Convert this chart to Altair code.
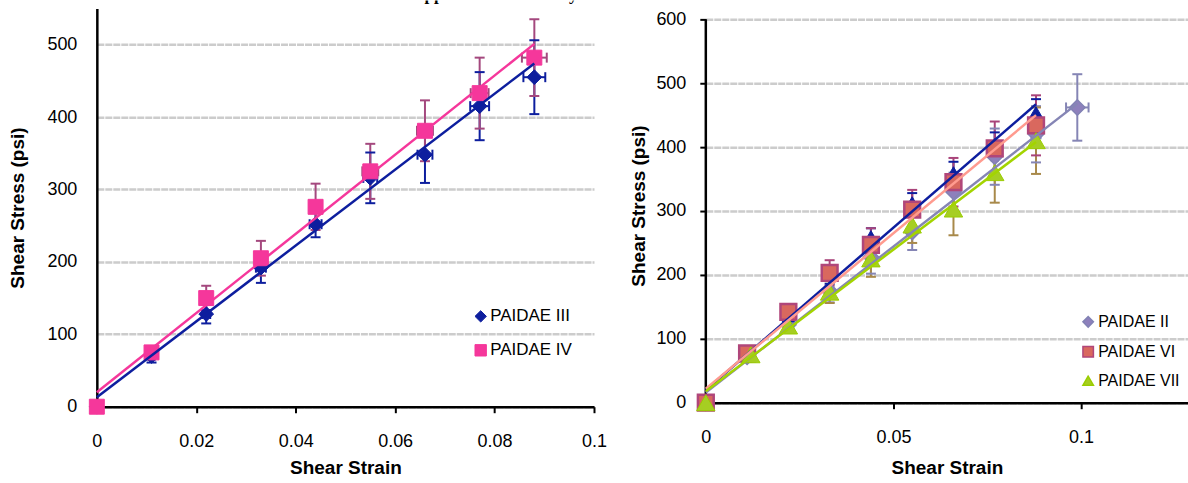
import altair as alt
import pandas as pd

FONT = "Liberation Sans"
BLACK = "black"

# ---------------- page heading (cut off at the top of the picture) ----------------
page_title = "Appendix H: Shear Cyclic Test Results"

# ---------------- left panel data ----------------
left_series = ["PAIDAE III", "PAIDAE IV"]
left_strain = [0, 0.011, 0.022, 0.033, 0.044, 0.055, 0.066, 0.077, 0.088]
iii_stress = [0, 70, 128, 192, 252, 316, 348, 415, 455]
iii_err = [0, 9, 13, 21, 18, 35, 39, 47, 51]
iii_xerr = [0, 0.0006, 0.0008, 0.001, 0.0012, 0.0014, 0.0015, 0.0019, 0.0022]
iv_stress = [0, 75, 150, 205, 276, 325, 381, 433, 482]
iv_err = [0, 7, 17, 24, 32, 38, 42, 49, 53]
iv_xerr = [0, 0.0006, 0.0008, 0.001, 0.0012, 0.0016, 0.0016, 0.0018, 0.0025]
left_fit_strain = [0, 0.088]
iii_fit = [13, 474]
iv_fit = [20, 501]

# ---------------- right panel data ----------------
right_series = ["PAIDAE II", "PAIDAE V", "PAIDAE VI", "PAIDAE VII"]
right_legend = ["PAIDAE II", "PAIDAE VI", "PAIDAE VII"]
ii_strain = [0, 0.011, 0.022, 0.033, 0.044, 0.055, 0.066, 0.077, 0.088, 0.099]
ii_stress = [0, 72, 122, 175, 228, 267, 330, 385, 420, 462]
ii_err = [0, 8, 12, 18, 26, 28, 30, 44, 44, 52]
ii_xerr = [0, 0, 0, 0, 0, 0, 0, 0.0008, 0.0012, 0.003]
v_strain = [0, 0.011, 0.022, 0.033, 0.044, 0.055, 0.066, 0.077, 0.088]
v_stress = [0, 72, 135, 198, 261, 314, 361, 405, 455]
v_err = [0, 8, 10, 12, 12, 14, 16, 18, 20]
v_xerr = [0, 0, 0, 0, 0, 0, 0, 0, 0]
vi_strain = [0, 0.011, 0.022, 0.033, 0.044, 0.055, 0.066, 0.077, 0.088]
vi_stress = [0, 77, 142, 203, 247, 302, 345, 398, 434]
vi_err = [0, 8, 10, 20, 26, 31, 38, 42, 47]
vi_xerr = [0, 0, 0, 0, 0, 0, 0, 0, 0]
vii_strain = [0, 0.012, 0.022, 0.033, 0.044, 0.055, 0.066, 0.077, 0.088]
vii_stress = [0, 75, 120, 173, 225, 278, 303, 360, 410]
vii_err = [0, 6, 10, 17, 28, 28, 41, 47, 52]
vii_xerr = [0, 0, 0, 0, 0, 0, 0, 0, 0]
ii_fit_strain = [0, 0.099]
ii_fit = [16, 468]
right_fit_strain = [0, 0.088]
v_fit = [20, 467]
vi_fit = [22, 450]
vii_fit = [18, 408]

# axis ticks
left_x_ticks = [0, 0.02, 0.04, 0.06, 0.08, 0.1]
left_y_ticks = [0, 100, 200, 300, 400, 500]
right_x_ticks = [0, 0.05, 0.1]
right_y_ticks = [0, 100, 200, 300, 400, 500, 600]


def points_table(names, strains, stresses, errs, xerrs):
    rows = []
    for name, xs, ys, es, xes in zip(names, strains, stresses, errs, xerrs):
        for x, y, e, xe in zip(xs, ys, es, xes):
            rows.append({"series": name, "strain": x, "stress": y, "err": e, "xerr": xe})
    return pd.DataFrame(rows)


def fit_table(names, strains, stresses):
    rows = []
    for name, xs, ys in zip(names, strains, stresses):
        for x, y in zip(xs, ys):
            rows.append({"series": name, "strain": x, "stress": y})
    return pd.DataFrame(rows)


left_pts = points_table(left_series, [left_strain, left_strain], [iii_stress, iv_stress],
                        [iii_err, iv_err], [iii_xerr, iv_xerr])
left_fits = fit_table(left_series, [left_fit_strain, left_fit_strain], [iii_fit, iv_fit])

right_pts = points_table(right_series, [ii_strain, v_strain, vi_strain, vii_strain],
                         [ii_stress, v_stress, vi_stress, vii_stress],
                         [ii_err, v_err, vi_err, vii_err],
                         [ii_xerr, v_xerr, vi_xerr, vii_xerr])
right_fits = fit_table(right_series, [ii_fit_strain, right_fit_strain, right_fit_strain, right_fit_strain],
                       [ii_fit, v_fit, vi_fit, vii_fit])


def make_panel(pts, fits, series, style, xdom, xticks, ydom, yticks, width, height,
               xlab_pad, xtitle_pad, ylab_pad, ytitle_pad, yticks_on, ydomain_on, legend):
    xaxis = alt.Axis(values=xticks, format="~g", grid=False, domain=True, domainColor=BLACK,
                     domainWidth=2.5, ticks=True, tickSize=6, tickWidth=2, tickColor=BLACK,
                     labelFont=FONT, labelFontSize=18, labelColor=BLACK, labelPadding=xlab_pad,
                     labelFlush=False, labelOverlap=False,
                     title="Shear Strain", titleFont=FONT, titleFontSize=19, titleFontWeight="bold",
                     titleColor=BLACK, titlePadding=xtitle_pad)
    yaxis = alt.Axis(values=yticks, format="d", grid=True, gridColor="#CCCCCC", gridDash=[7, 1],
                     gridWidth=2.5, domain=ydomain_on, domainColor=BLACK, domainWidth=2.5,
                     ticks=yticks_on, tickSize=6 if yticks_on else 0, tickWidth=2, tickColor=BLACK,
                     labelFont=FONT, labelFontSize=18, labelColor=BLACK, labelPadding=ylab_pad,
                     labelOverlap=False,
                     title="Shear Stress (psi)", titleFont=FONT, titleFontSize=19, titleFontWeight="bold",
                     titleColor=BLACK, titlePadding=ytitle_pad)

    def X(f):
        return alt.X(f + ":Q", scale=alt.Scale(domain=xdom, nice=False, zero=False), axis=xaxis)

    def Y(f):
        return alt.Y(f + ":Q", scale=alt.Scale(domain=ydom, nice=False, zero=False), axis=yaxis)

    def err_color():
        return alt.Color("series:N", scale=alt.Scale(domain=series, range=style["err"]), legend=None)

    layers = []
    if not ydomain_on:
        axis_df = pd.DataFrame({"strain": [xdom[0]], "lo": [yticks[0]], "hi": [yticks[-1]]})
        layers.append(alt.Chart(axis_df).mark_rule(strokeWidth=2.5, color=BLACK).encode(
            x=X("strain"), y=Y("lo"), y2=alt.Y2("hi:Q")))

    verr = alt.Chart(pts).transform_filter("datum.err > 0").transform_calculate(
        lo="datum.stress - datum.err", hi="datum.stress + datum.err")
    herr = alt.Chart(pts).transform_filter("datum.xerr > 0").transform_calculate(
        xlo="datum.strain - datum.xerr", xhi="datum.strain + datum.xerr")

    layers.append(verr.mark_rule(strokeWidth=2).encode(x=X("strain"), y=Y("lo"), y2=alt.Y2("hi:Q"),
                                                       color=err_color()))
    layers.append(verr.mark_tick(orient="horizontal", size=10, thickness=2, opacity=1).encode(
        x=X("strain"), y=Y("hi"), color=err_color()))
    layers.append(verr.mark_tick(orient="horizontal", size=10, thickness=2, opacity=1).encode(
        x=X("strain"), y=Y("lo"), color=err_color()))
    layers.append(herr.mark_rule(strokeWidth=2).encode(x=X("xlo"), x2=alt.X2("xhi:Q"), y=Y("stress"),
                                                       color=err_color()))
    layers.append(herr.mark_tick(orient="vertical", size=10, thickness=2, opacity=1).encode(
        x=X("xlo"), y=Y("stress"), color=err_color()))
    layers.append(herr.mark_tick(orient="vertical", size=10, thickness=2, opacity=1).encode(
        x=X("xhi"), y=Y("stress"), color=err_color()))

    for i, name in enumerate(series):
        layers.append(alt.Chart(pts).transform_filter(alt.datum.series == name).mark_point(
            filled=True, opacity=1, size=style["size"][i], strokeWidth=style["sw"][i]).encode(
            x=X("strain"), y=Y("stress"),
            fill=alt.Fill("series:N", scale=alt.Scale(domain=series, range=style["fill"]), legend=legend),
            stroke=alt.Stroke("series:N", scale=alt.Scale(domain=series, range=style["stroke"]), legend=legend),
            shape=alt.Shape("series:N", scale=alt.Scale(domain=series, range=style["shape"]), legend=legend),
        ))

    layers.append(alt.Chart(fits).mark_line(strokeWidth=2.5).encode(
        x=X("strain"), y=Y("stress"),
        color=alt.Color("series:N", scale=alt.Scale(domain=series, range=style["line"]), legend=None)))

    return alt.layer(*layers).resolve_scale(color="independent").properties(width=width, height=height)


NAVY = "#0D1E9E"
left_style = {
    "fill": [NAVY, "#F5379B"],
    "stroke": [NAVY, "#F5379B"],
    "shape": ["diamond", "square"],
    "size": [220, 225],
    "sw": [1, 1],
    "line": [NAVY, "#F5379B"],
    "err": [NAVY, "#A4487E"],
}
right_style = {
    "fill": ["#8E80BC", NAVY, "#D9685E", "#A6CE22"],
    "stroke": ["#8282B4", NAVY, "#B0467A", "#9ACD00"],
    "shape": ["diamond", "triangle-up", "square", "triangle-up"],
    "size": [240, 150, 250, 340],
    "sw": [1.5, 1, 2.5, 1],
    "line": ["#8585B5", NAVY, "#FF9B8F", "#A3D400"],
    "err": ["#8585B5", NAVY, "#A9447A", "#A8894A"],
}

left_legend = alt.Legend(orient="none", legendX=376, legendY=300, title=None, padding=0,
                         labelFont=FONT, labelFontSize=17, labelColor=BLACK, labelOffset=1,
                         symbolSize=130, symbolStrokeWidth=1, rowPadding=16)
right_legend_obj = alt.Legend(orient="none", legendX=375, legendY=306, title=None, padding=0,
                              values=right_legend,
                              labelFont=FONT, labelFontSize=16, labelColor=BLACK, labelOffset=2,
                              symbolSize=110, symbolStrokeWidth=1.5, rowPadding=12)

left = make_panel(left_pts, left_fits, left_series, left_style, [0, 0.1], left_x_ticks,
                  [0, 550], left_y_ticks, 498, 399,
                  xlab_pad=20, xtitle_pad=8, ylab_pad=20, ytitle_pad=19,
                  yticks_on=False, ydomain_on=True, legend=left_legend)
right = make_panel(right_pts, right_fits, right_series, right_style, [0, 0.1285], right_x_ticks,
                   [0, 617], right_y_ticks, 483, 395,
                   xlab_pad=20, xtitle_pad=12, ylab_pad=14, ytitle_pad=7,
                   yticks_on=True, ydomain_on=False, legend=right_legend_obj)

strip = alt.Chart(pd.DataFrame({"label": [page_title]})).mark_text(
    font="Liberation Serif", fontSize=17, fontWeight="bold", align="left", baseline="alphabetic",
    color=BLACK, clip=True).encode(text="label:N", x=alt.value(316), y=alt.value(0)).properties(
    width=1093, height=6)

row = alt.hconcat(left, right, spacing=112, bounds="flush").resolve_scale(
    x="independent", y="independent", color="independent",
    fill="independent", stroke="independent", shape="independent")
chart = alt.vconcat(strip, row, spacing=2, bounds="flush").properties(
    padding={"left": 8, "top": 0, "right": 0, "bottom": 0}, background="white"
).configure_view(strokeWidth=0)

chart.save("out.html", embed_options={"renderer": "svg", "actions": False})
